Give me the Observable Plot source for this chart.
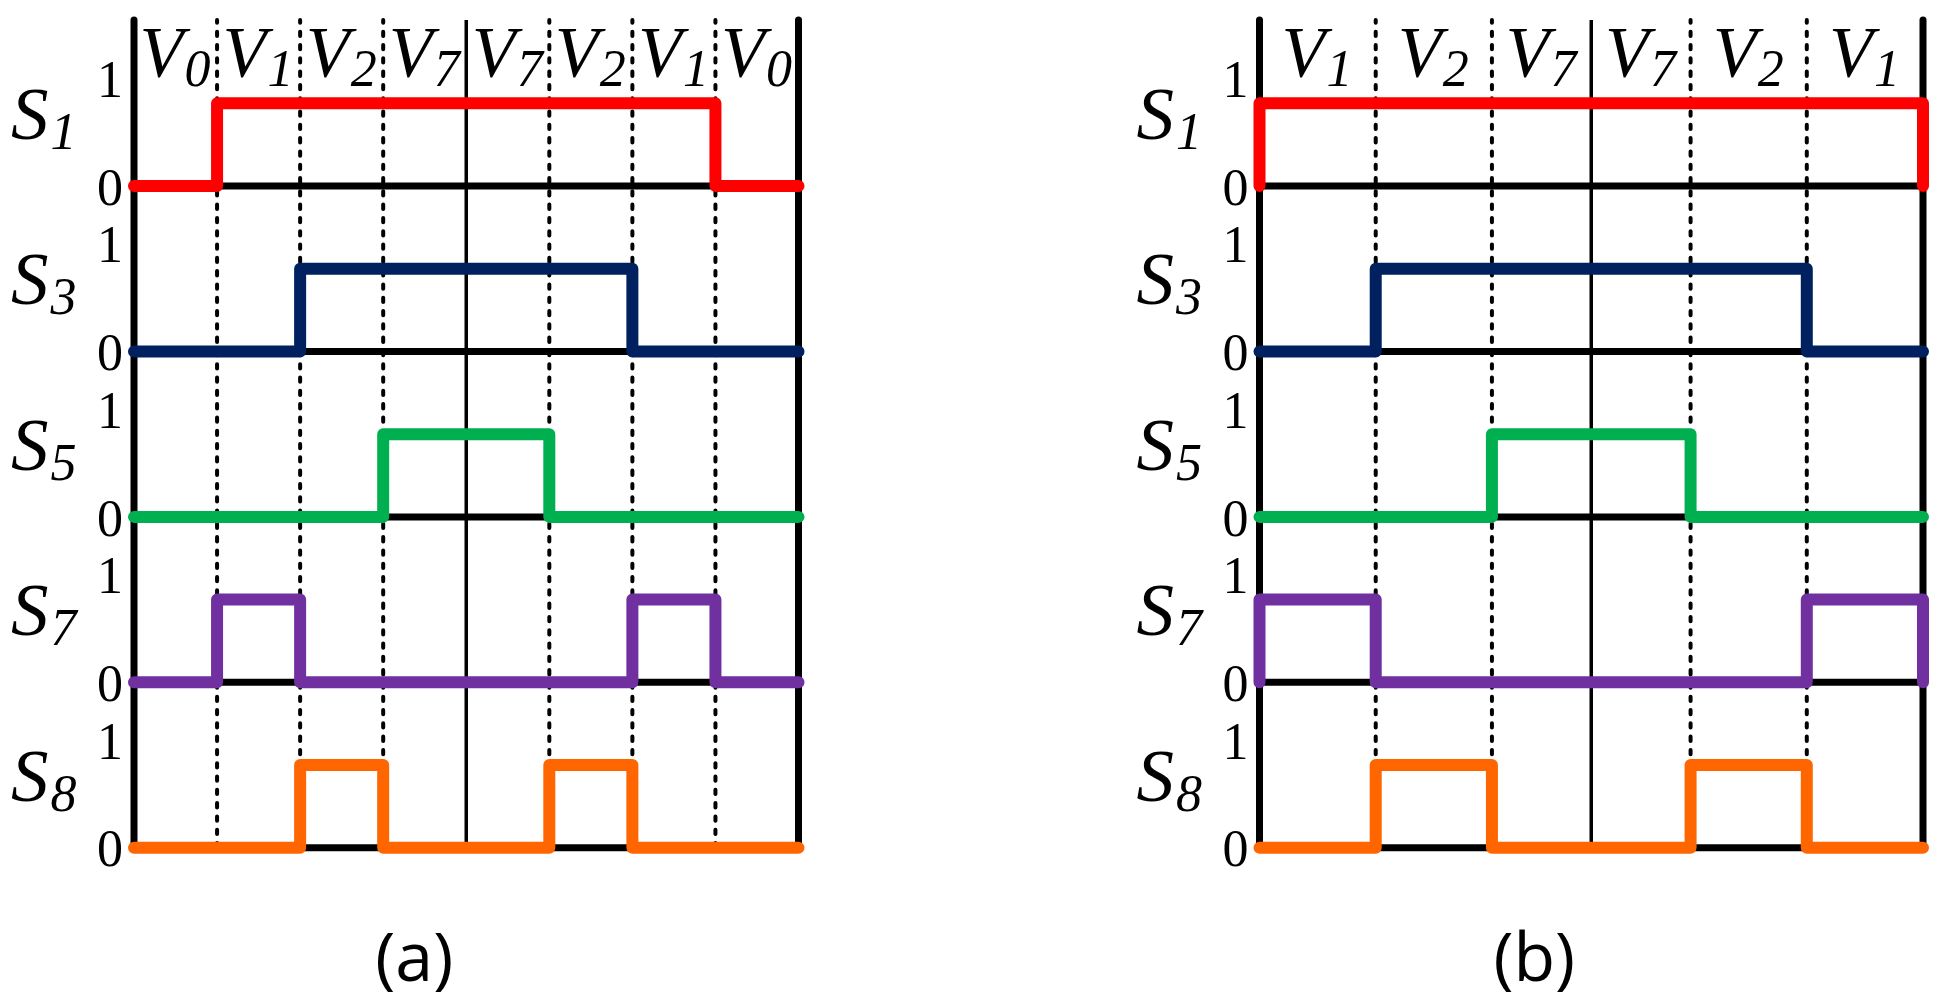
<!DOCTYPE html>
<html><head><meta charset="utf-8">
<script src="https://cdn.jsdelivr.net/npm/d3@7"></script>
<script src="https://cdn.jsdelivr.net/npm/@observablehq/plot@0.6"></script>
<style>
html,body{margin:0;padding:0;background:#fff;}
#wrap{display:flex;width:1941px;height:1008px;overflow:hidden;}
#wrap svg{display:block;flex:none;}
</style></head><body><div id="wrap"></div>
<script>
// ---- data ----
const signals = ["S1", "S3", "S5", "S7", "S8"];
const signalColors = ["#FF0000", "#002060", "#00B050", "#7030A0", "#FF6600"];
const tickLabels = ["0", "1"];
const panelLabels = ["(a)", "(b)"];

// panel (a): switching sequence and dwell times
const vectorsA = ["V0", "V1", "V2", "V7", "V7", "V2", "V1", "V0"];
const dwellA = [1, 1, 1, 1, 1, 1, 1, 1];
const S1a = [0, 1, 1, 1, 1, 1, 1, 0];
const S3a = [0, 0, 1, 1, 1, 1, 0, 0];
const S5a = [0, 0, 0, 1, 1, 0, 0, 0];
const S7a = [0, 1, 0, 0, 0, 0, 1, 0];
const S8a = [0, 0, 1, 0, 0, 1, 0, 0];

// panel (b)
const vectorsB = ["V1", "V2", "V7", "V7", "V2", "V1"];
const dwellB = [1.17, 1.17, 1, 1, 1.17, 1.17];
const S1b = [1, 1, 1, 1, 1, 1];
const S3b = [0, 1, 1, 1, 1, 0];
const S5b = [0, 0, 1, 1, 0, 0];
const S7b = [1, 0, 0, 0, 0, 1];
const S8b = [0, 1, 0, 0, 1, 0];

const rowStep = 2;     // vertical spacing of rows (in level units)
const yTop = 10;       // top of the frame (level units)

const serif = "'Liberation Serif', 'Times New Roman', serif";

// turn "V0" / "S1" labels into letter + italic subscript inside one <text>
function subscriptify(svg, desc, mainSize, subSize, subDy, subDx) {
  d3.select(svg).selectAll(`g[aria-description="${desc}"] text`).each(function () {
    const s = this.textContent;
    const t = d3.select(this);
    t.text(null);
    t.append("tspan").attr("font-size", mainSize).text(s[0]);
    t.append("tspan").attr("font-size", subSize).attr("dy", subDy).attr("dx", subDx).text(s.slice(1));
  });
}

function makePanel({vectors, dwell, states, label, width, marginLeft, marginRight, captionDx}) {
  const bounds = [0];
  dwell.forEach(d => bounds.push(bounds[bounds.length - 1] + d));
  const T = bounds[bounds.length - 1];
  const mid = bounds[Math.floor(bounds.length / 2)];
  const inner = bounds.slice(1, -1).filter(b => b !== mid);

  const rows = signals.map((s, i) => ({
    signal: s,
    base: (signals.length - 1 - i) * rowStep
  }));

  const pts = [];
  rows.forEach((r, i) => {
    const st = states[i];
    pts.push({signal: r.signal, t: 0, y: r.base});
    st.forEach((v, k) => {
      pts.push({signal: r.signal, t: bounds[k], y: r.base + v});
      pts.push({signal: r.signal, t: bounds[k + 1], y: r.base + v});
    });
    pts.push({signal: r.signal, t: T, y: r.base});
  });

  const segs = vectors.map((v, k) => ({
    mid: (bounds[k] + bounds[k + 1]) / 2,
    label: v
  }));

  const svg = Plot.plot({
    width, height: 1008,
    marginLeft, marginRight, marginTop: 20, marginBottom: 160.7,
    x: {domain: [0, T], axis: null},
    y: {domain: [0, yTop], axis: null},
    color: {domain: signals, range: signalColors},
    style: {background: "white", overflow: "visible"},
    marks: [
      // dashed switching instants
      Plot.ruleX(inner, {y1: 0, y2: yTop, stroke: "black", strokeWidth: 4, strokeDasharray: "4.3,9",
        strokeLinecap: "round"}),
      // centre line
      Plot.ruleX([mid], {y1: 0, y2: yTop, stroke: "black", strokeWidth: 3.5}),
      // period borders
      Plot.ruleX([0, T], {y1: 0, y2: yTop, stroke: "black", strokeWidth: 7, strokeLinecap: "round"}),
      // zero lines
      Plot.ruleY(rows, {y: "base", x1: 0, x2: T, stroke: "black", strokeWidth: 7}),
      // switching signals
      Plot.line(pts, {x: "t", y: "y", z: "signal", stroke: "signal", strokeWidth: 12,
        strokeLinecap: "round", strokeLinejoin: "round"}),
      // tick labels 0 / 1
      Plot.text(rows, {y: "base", text: () => tickLabels[0], frameAnchor: "left", dx: -11, dy: 2,
        textAnchor: "end", lineAnchor: "middle", fontSize: 52, fontFamily: serif, fill: "black"}),
      Plot.text(rows, {y: d => d.base + 1, text: () => tickLabels[1], frameAnchor: "left", dx: -11, dy: -23,
        textAnchor: "end", lineAnchor: "middle", fontSize: 52, fontFamily: serif, fill: "black"}),
      // row labels S with subscript
      Plot.text(rows, {y: "base", text: "signal", frameAnchor: "left", dx: -123, dy: -47,
        textAnchor: "start", lineAnchor: "bottom", fontSize: 75, fontStyle: "italic",
        fontFamily: serif, fill: "black", ariaDescription: "row-labels"}),
      // vector labels V with subscript
      Plot.text(segs, {x: "mid", text: "label", frameAnchor: "top", dx: -0.5, dy: 55,
        textAnchor: "middle", lineAnchor: "bottom", fontSize: 72, fontStyle: "italic",
        fontFamily: serif, fill: "black", ariaDescription: "vector-labels"}),
      // caption
      Plot.text([label], {text: d => d, frameAnchor: "bottom", dx: captionDx, dy: 133,
        lineAnchor: "bottom", textAnchor: "middle", fontSize: 68, fontFamily: "'Open Sans', sans-serif", fill: "black"})
    ]
  });
  subscriptify(svg, "row-labels", 75, 52, 10, 2);
  subscriptify(svg, "vector-labels", 72, 52, 10, 1);
  return svg;
}

const wrap = document.getElementById("wrap");
wrap.appendChild(makePanel({
  vectors: vectorsA, dwell: dwellA, states: [S1a, S3a, S5a, S7a, S8a], label: panelLabels[0],
  width: 970, marginLeft: 133.5, marginRight: 172, captionDx: -52
}));
wrap.appendChild(makePanel({
  vectors: vectorsB, dwell: dwellB, states: [S1b, S3b, S5b, S7b, S8b], label: panelLabels[1],
  width: 971, marginLeft: 289, marginRight: 18.5, captionDx: -57
}));
</script></body></html>
